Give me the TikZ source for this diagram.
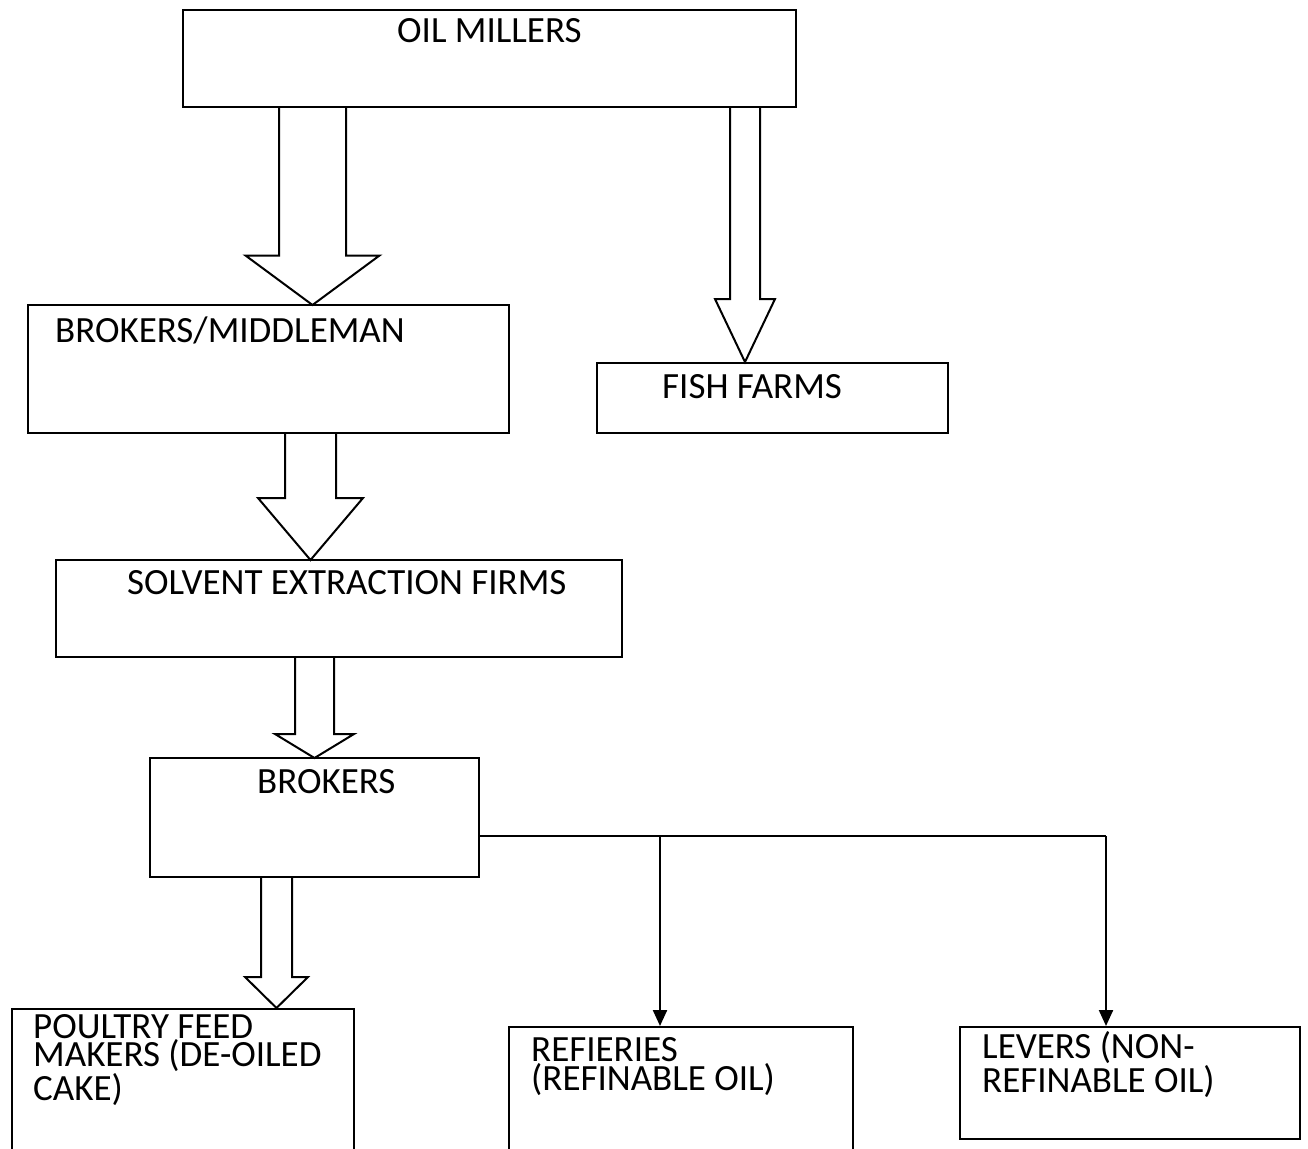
\documentclass[tikz,border=0pt]{standalone}
\usepackage{fontspec}
\setmainfont{Carlito}
\usetikzlibrary{arrows.meta,calc}
\newcommand\blockarr[7]{% name, center x, top y, shaft half, head half, head base y, apex y
  \draw[blockar] (#2-#4,#3) -- (#2-#4,#6) -- (#2-#5,#6) -- (#2,#7) coordinate (#1) -- (#2+#5,#6) -- (#2+#4,#6) -- (#2+#4,#3);
}
\begin{document}
\begin{tikzpicture}[x=1pt,y=-1pt,
  boxn/.style={draw, line width=2pt, inner sep=0pt, rectangle},
  lbl/.style={anchor=base west, inner sep=0pt, align=left, font=\fontsize{37}{27}\selectfont},
  blockar/.style={line width=2pt, line join=miter},
  conn/.style={line width=2.2pt, -{Triangle[length=16pt,width=14pt]}}]
\useasboundingbox (0,0) rectangle (1308,1148);
\clip (0,0) rectangle (1308,1148);
\node[boxn, minimum width=613pt, minimum height=97pt] (mill) at (489.5,58.5) {};
\node[boxn, minimum width=481pt, minimum height=128pt] (brk1) at (268.5,369) {};
\node[boxn, minimum width=351pt, minimum height=70pt] (fish) at (772.5,398) {};
\node[boxn, minimum width=566pt, minimum height=97pt] (solv) at (339,608.5) {};
\node[boxn, minimum width=329pt, minimum height=119pt] (brk2) at (314.5,817.5) {};
\node[boxn, minimum width=342pt, minimum height=161pt] (poul) at (183,1089.5) {};
\node[boxn, minimum width=344pt, minimum height=143pt] (refi) at (681,1098.5) {};
\node[boxn, minimum width=340pt, minimum height=112pt] (lev) at (1130,1083) {};

\node[lbl] (tmill) at (397,42) {OIL MILLERS};
\node[lbl] (tbrk1) at (55,342) {BROKERS/MIDDLEMAN};
\node[lbl] (tfish) at (662,398) {FISH FARMS};
\node[lbl] (tsolv) at (127,594) {SOLVENT EXTRACTION FIRMS};
\node[lbl] (tbrk2) at (257,793) {BROKERS};
\node[lbl] (tpoul) at (33,1100) {POULTRY FEED\\MAKERS (DE-OILED\\CAKE)};
\node[lbl] (trefi) at (531,1090) {REFIERIES\\(REFINABLE OIL)};
\node[lbl] (tlev) at (982,1092) {LEVERS (NON-\\REFINABLE OIL)};

\blockarr{a1}{312.5}{107}{33.5}{67}{255.5}{305}
\blockarr{a2}{745}{107}{15}{30}{299}{362}
\blockarr{a3}{310.5}{433}{25.5}{52.5}{498}{560}
\blockarr{a4}{314.5}{657}{19.5}{39.5}{734}{758}
\blockarr{a5}{276.5}{877}{15.5}{31.5}{977}{1008}

\coordinate (bs) at (479,836);
\coordinate (j1) at (660,836);
\coordinate (j2) at (1106,836);
\draw[line width=2pt] (bs) -- (j2);
\draw[conn] (j1) -- (j1 |- refi.north);
\draw[conn] (j2) -- (j2 |- lev.north);
\end{tikzpicture}
\end{document}
